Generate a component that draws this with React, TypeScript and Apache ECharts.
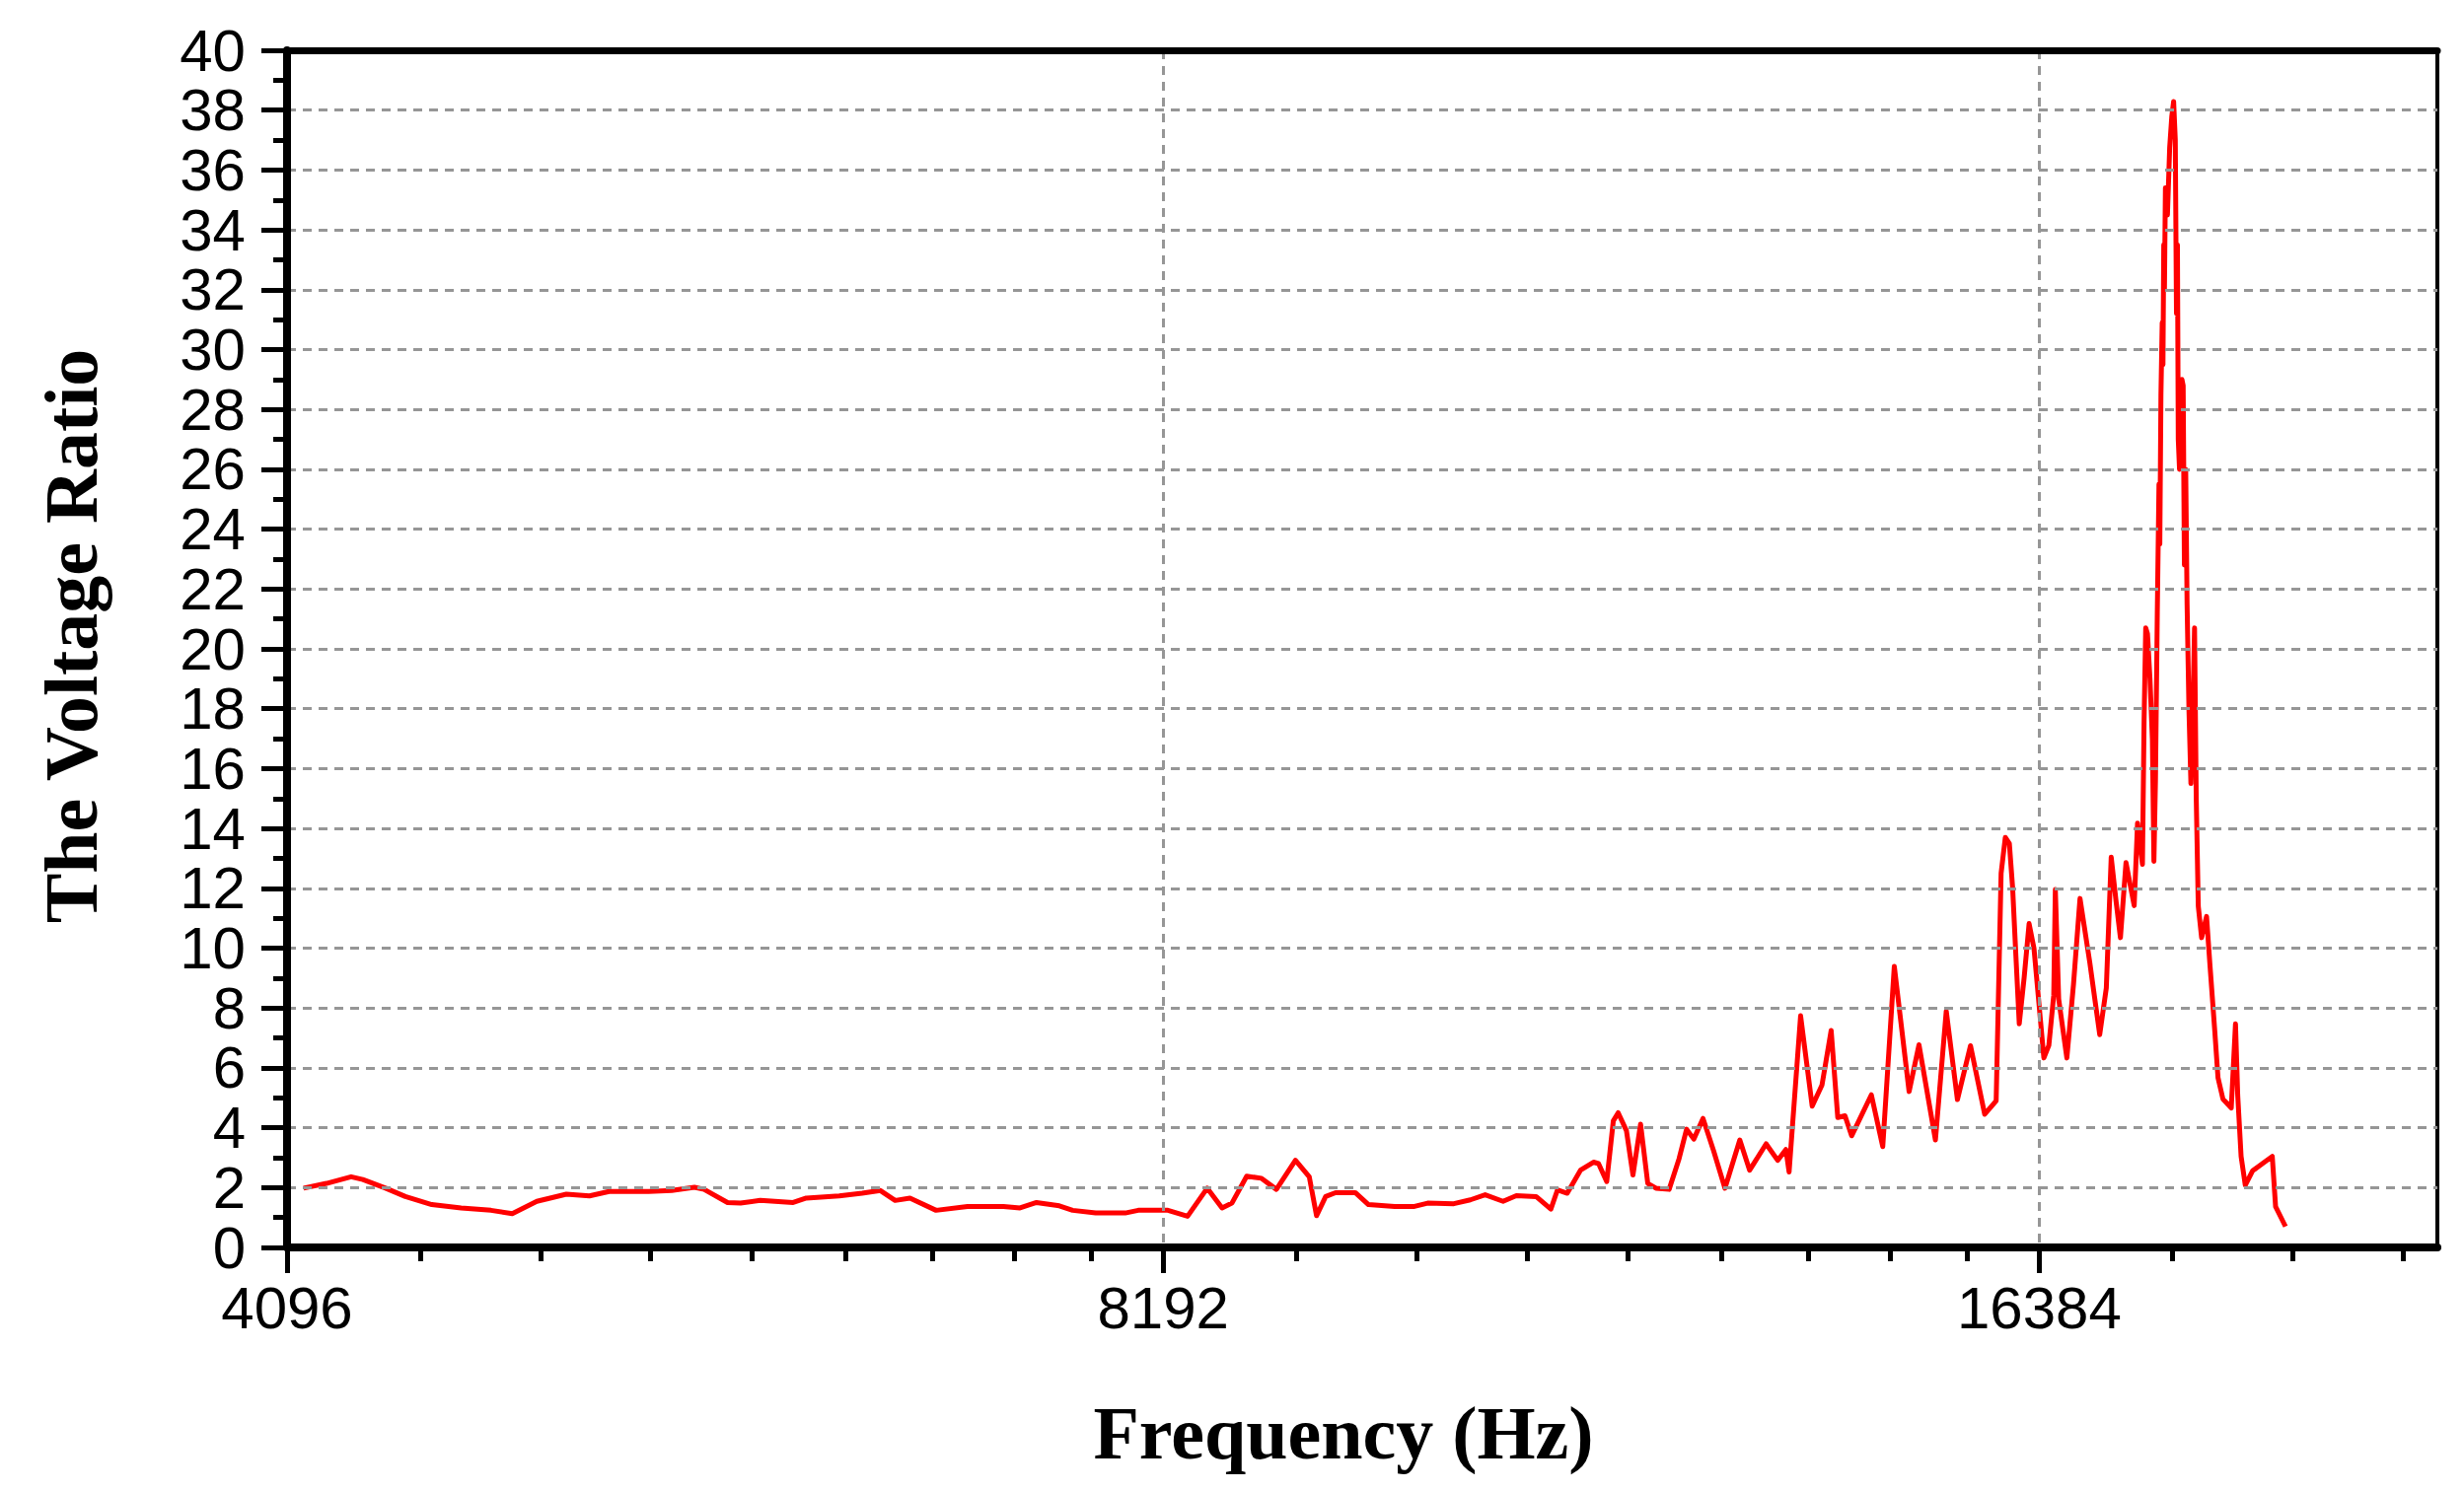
import React, { useEffect, useRef } from "react";
import * as echarts from "echarts";

// Frequency (Hz) of each sample
const frequencies: number[] = [
  4150, 4226, 4309, 4349, 4428, 4498, 4593, 4701, 4813, 4895, 4991, 5109, 5203, 5285, 5453, 5553, 5654, 5697, 5804, 5864,
  5956, 6113, 6177, 6340, 6456, 6550, 6627, 6705, 6845, 7017, 7220, 7315, 7411, 7546, 7626, 7766, 7950, 8032, 8223,
  8352, 8483, 8583, 8650, 8752, 8855, 8960, 9096, 9196, 9249, 9316, 9389, 9537, 9637, 9839, 9994, 10099, 10310, 10446,
  10569, 10720, 10833, 11004, 11133, 11191, 11278, 11397, 11515, 11561, 11636, 11697, 11742, 11819, 11880, 11952, 12020,
  12098, 12225, 12321, 12395, 12466, 12557, 12662, 12777, 12928, 13029, 13200, 13321, 13408, 13442, 13565, 13690, 13797,
  13897, 13970, 14050, 14124, 14346, 14476, 14609, 14781, 14897, 15092, 15222, 15357, 15517, 15692, 15835, 15897, 15950,
  16001, 16043, 16084, 16127, 16190, 16253, 16316, 16444, 16509, 16573, 16594, 16638, 16746, 16834, 16921, 17053, 17187,
  17277, 17344, 17412, 17471, 17548, 17662, 17709, 17778, 17801, 17824, 17849, 17884, 17918, 17940, 17962, 17988, 18012,
  18024, 18040, 18058, 18069, 18080, 18090, 18104, 18133, 18165, 18196, 18222, 18246, 18263, 18277, 18289, 18307, 18342,
  18360, 18378, 18397, 18417, 18445, 18473, 18502, 18526, 18551, 18581, 18630, 18703, 18751, 18825, 18873, 18947, 19072,
  19136, 19170, 19221, 19285, 19396, 19548, 19701, 19753, 19908,
];

// Voltage ratio at each frequency
const voltageRatio: number[] = [
  1.98, 2.14, 2.36, 2.27, 1.98, 1.7, 1.43, 1.32, 1.24, 1.13, 1.54, 1.78, 1.72, 1.87, 1.87, 1.9, 2.01, 1.94, 1.5, 1.48,
  1.57, 1.5, 1.65, 1.72, 1.81, 1.9, 1.57, 1.65, 1.24, 1.37, 1.37, 1.32, 1.5, 1.39, 1.24, 1.15, 1.15, 1.24, 1.24,
  1.04, 1.98, 1.32, 1.48, 2.38, 2.31, 1.94, 2.91, 2.36, 1.06, 1.7, 1.83, 1.83, 1.43, 1.37, 1.37, 1.48, 1.46, 1.59,
  1.76, 1.54, 1.73, 1.7, 1.28, 1.92, 1.81, 2.58, 2.85, 2.8, 2.2, 4.23, 4.5, 3.9, 2.42, 4.12, 2.14,
  1.98, 1.94, 2.96, 3.95, 3.62, 4.31, 3.24, 1.98, 3.59, 2.58, 3.46, 2.91, 3.27, 2.52, 7.74, 4.72, 5.43,
  7.25, 4.34, 4.4, 3.73, 5.1, 3.37, 9.39, 5.21, 6.77, 3.59, 7.9, 4.94, 6.74, 4.45, 4.9, 12.5, 13.7,
  13.5, 12.0, 9.75, 7.47, 9.03, 10.82, 9.99, 6.33, 6.75, 8.43, 11.96, 8.3, 6.33, 8.79, 11.66, 9.51, 7.11,
  8.67, 13.04, 11.54, 10.35, 12.86, 11.42, 14.18, 12.8, 17.6, 20.7, 20.5, 19.0, 17.0, 12.9, 15.6, 21.2, 25.5,
  23.5, 28.5, 30.9, 29.5, 33.5, 32.0, 35.4, 34.5, 36.75, 37.8, 38.29, 37.0, 31.2, 33.5, 27.0, 26.0, 29.0,
  28.8, 22.8, 26.0, 21.5, 17.9, 15.5, 18.0, 20.7, 15.0, 11.4, 10.35, 11.06, 9.51, 7.23, 5.67, 4.96, 4.66,
  7.47, 5.08, 3.04, 2.08, 2.56, 2.8, 3.04, 1.36, 0.7,
];

// Axis tick values
const xMajorTicks: number[] = [4096, 8192, 16384];
const xMinorTicks: number[] = [
  4551, 5006, 5461, 5916, 6372, 6827, 7282, 7737,
  9102, 10012, 10923, 11833, 12743, 13653, 14564, 15474,
  18204, 20025, 21845,
];
const xMin = 4096;
const xMax = 22450;
const yMin = 0;
const yMax = 40;
const yStep = 2;

const xTitle = "Frequency (Hz)";
const yTitle = "The Voltage Ratio";

const tickFont = '"Liberation Sans", Arial, sans-serif';
const titleFont = '"Liberation Serif", "Times New Roman", serif';

export default function App() {
  const ref = useRef<HTMLDivElement>(null);

  useEffect(() => {
    document.body.style.margin = "0";
    const chart = echarts.init(ref.current!, null, { renderer: "svg" });
    const seriesData = frequencies.map((f, i) => [f, voltageRatio[i]]);
    const gridDash = { color: "#969696", width: 3, type: [9, 7] as number[] };

    const baseLogAxis = {
      type: "log" as const,
      logBase: 2,
      min: xMin,
      max: xMax,
      gridIndex: 0,
    };

    chart.setOption({
      animation: false,
      backgroundColor: "#ffffff",
      grid: {
        left: 291,
        right: 27,
        top: 51,
        bottom: 247,
        show: true,
        borderColor: "#000",
        borderWidth: 4,
        backgroundColor: "transparent",
      },
      xAxis: [
        {
          ...baseLogAxis,
          position: "bottom",
          axisLine: { show: true, onZero: false, lineStyle: { color: "#000", width: 8 } },
          axisTick: {
            show: true,
            customValues: xMajorTicks,
            length: 26,
            lineStyle: { color: "#000", width: 5 },
          },
          axisLabel: {
            show: true,
            customValues: xMajorTicks,
            formatter: (v: number) => String(Math.round(v)),
            fontSize: 60,
            fontFamily: tickFont,
            color: "#000",
            margin: 31,
          },
          splitLine: { show: true, lineStyle: gridDash },
          minorTick: { show: false },
          minorSplitLine: { show: false },
          z: 5,
        },
        {
          ...baseLogAxis,
          position: "bottom",
          axisLine: { show: false, onZero: false },
          axisTick: {
            show: true,
            customValues: xMinorTicks,
            length: 14,
            lineStyle: { color: "#000", width: 5 },
          },
          axisLabel: { show: false },
          splitLine: { show: false },
          minorTick: { show: false },
          z: 5,
        },
        {
          ...baseLogAxis,
          position: "top",
          axisLine: { show: true, onZero: false, lineStyle: { color: "#000", width: 7 } },
          axisTick: { show: false },
          axisLabel: { show: false },
          splitLine: { show: false },
          z: 5,
        },
      ],
      yAxis: [
        {
          type: "value",
          min: yMin,
          max: yMax,
          interval: yStep,
          position: "left",
          axisLine: { show: true, onZero: false, lineStyle: { color: "#000", width: 8 } },
          axisTick: { show: true, length: 26, lineStyle: { color: "#000", width: 5 } },
          minorTick: { show: true, splitNumber: 2, length: 14, lineStyle: { color: "#000", width: 5 } },
          axisLabel: {
            show: true,
            fontSize: 60,
            fontFamily: tickFont,
            color: "#000",
            margin: 42,
          },
          splitLine: { show: true, lineStyle: gridDash },
          z: 5,
        },
      ],
      series: [
        {
          type: "line",
          xAxisIndex: 0,
          yAxisIndex: 0,
          data: seriesData,
          showSymbol: false,
          symbol: "none",
          smooth: false,
          lineStyle: { color: "#ff0000", width: 5, join: "round" },
          z: 3,
        },
      ],
      graphic: [
        {
          type: "text",
          x: 1362,
          y: 1453,
          style: {
            text: xTitle,
            font: `bold 76px ${titleFont}`,
            fill: "#000",
            align: "center",
            verticalAlign: "middle",
          },
        },
        {
          type: "text",
          x: 72,
          y: 645,
          rotation: Math.PI / 2,
          style: {
            text: yTitle,
            font: `bold 76px ${titleFont}`,
            fill: "#000",
            align: "center",
            verticalAlign: "middle",
          },
        },
      ],
    });

    return () => chart.dispose();
  }, []);

  return <div ref={ref} style={{ width: 2498, height: 1512 }} />;
}
